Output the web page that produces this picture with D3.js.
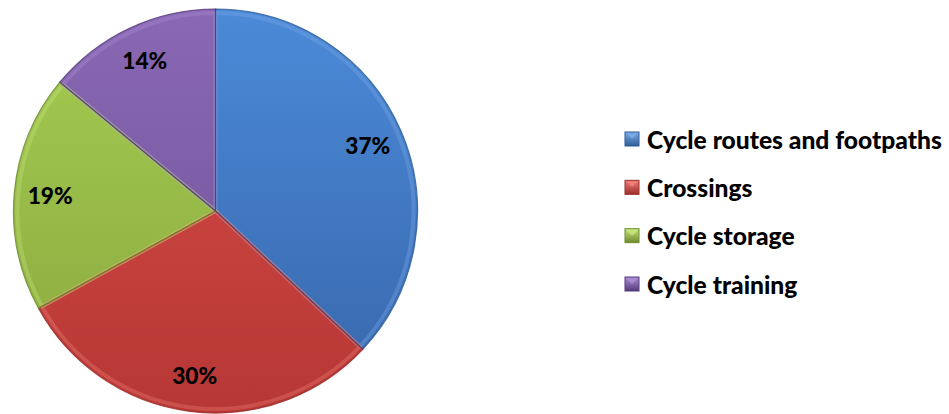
<!DOCTYPE html>
<html><head><meta charset="utf-8">
<script src="https://cdn.jsdelivr.net/npm/d3@7"></script>
<style>body{margin:0;background:#fff}svg{display:block}</style>
</head><body>
<svg id="c" width="949" height="414"></svg>
<script>
const categories = ["Cycle routes and footpaths", "Crossings", "Cycle storage", "Cycle training"];
const values = [37, 30, 19, 14];
const labels = ["37%", "30%", "19%", "14%"];
const topC = ["#4b8ad8", "#d84d49", "#a4cc52", "#8a68b4"];
const botC = ["#3766aa", "#b63734", "#8aa83e", "#6e5196"];
const light = ["#7aaae8", "#f07d79", "#c6e47c", "#aa8cd2"];
const dark = ["#2f5d96", "#9c2e2b", "#6f8c2e", "#563b7a"];

const svg = d3.select("#c");
const font = "Lato, 'Open Sans', sans-serif";
const cx = 215.5, cy = 211, R = 202;
const defs = svg.append("defs");
topC.forEach((c, i) => {
  const g = defs.append("linearGradient").attr("id", "g" + i)
    .attr("gradientUnits", "userSpaceOnUse").attr("x1", 0).attr("y1", -R).attr("x2", 0).attr("y2", R);
  g.append("stop").attr("offset", "0").attr("stop-color", c);
  g.append("stop").attr("offset", "1").attr("stop-color", botC[i]);
  const lg = defs.append("linearGradient").attr("id", "m" + i).attr("x1", 0).attr("y1", 0).attr("x2", 0).attr("y2", 1);
  lg.append("stop").attr("offset", "0").attr("stop-color", light[i]);
  lg.append("stop").attr("offset", "1").attr("stop-color", dark[i]);
});

const pie = d3.pie().sort(null).value(d => d)(values);
const arc = d3.arc().innerRadius(0).outerRadius(R);
const innerArc = d3.arc().innerRadius(0).outerRadius(R - 4);
const g = svg.append("g").attr("transform", `translate(${cx},${cy})`);

g.selectAll("path.s").data(pie).join("path").attr("class", "s")
  .attr("d", arc).attr("fill", (d, i) => `url(#g${i})`);
g.selectAll("path.b").data(pie).join("path").attr("class", "b")
  .attr("d", innerArc).attr("fill", "none")
  .attr("stroke", (d, i) => light[i]).attr("stroke-opacity", 0.35).attr("stroke-width", 4);
g.selectAll("path.o").data(pie).join("path").attr("class", "o")
  .attr("d", arc).attr("fill", "none")
  .attr("stroke", (d, i) => dark[i]).attr("stroke-width", 1.2).attr("stroke-opacity", 0.85);

const labelArc = d3.arc().innerRadius(166).outerRadius(166);
const lab = g.selectAll("text.l").data(pie).join("text").attr("class", "l")
  .attr("transform", d => `translate(${labelArc.centroid(d)})`)
  .attr("text-anchor", "middle").attr("dominant-baseline", "central")
  .attr("font-family", font).attr("font-weight", 900).attr("font-size", 22)
  .attr("fill", "#000").text((d, i) => labels[i]);
const lw = lab.node().getComputedTextLength();
lab.attr("font-size", 22 * 45 / lw);

const ys = d3.scalePoint().domain(categories).range([139, 284]);
const lg = svg.append("g");
categories.forEach((c, i) => {
  const y = ys(c);
  lg.append("rect").attr("x", 625).attr("y", y - 7).attr("width", 14).attr("height", 14)
    .attr("fill", `url(#m${i})`).attr("stroke", dark[i]).attr("stroke-width", 1);
  lg.append("path").attr("d", `M${626},${y - 6} L${632},${y} L${638},${y - 6} Z`)
    .attr("fill", light[i]).attr("opacity", 0.9);
  lg.append("text").attr("class", "lt").attr("x", 647).attr("y", y).attr("dominant-baseline", "central")
    .attr("font-family", font).attr("font-weight", 900).attr("font-size", 23).attr("fill", "#000").text(c);
});
const t0 = lg.select("text.lt").node();
const w = t0.getComputedTextLength();
lg.selectAll("text.lt").attr("font-size", 23 * 295 / w);
</script>
</body></html>
